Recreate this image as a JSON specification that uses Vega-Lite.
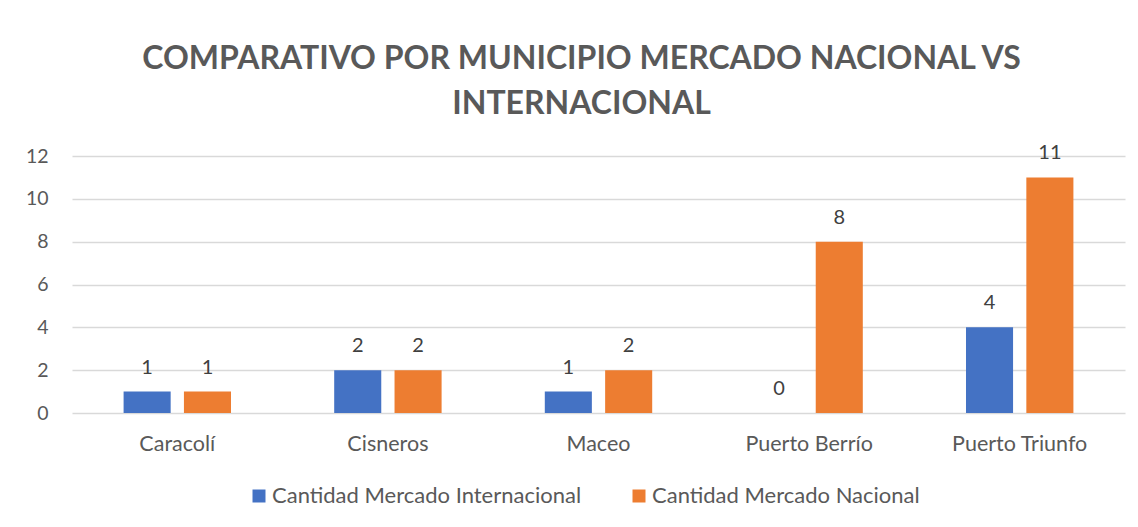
{
  "$schema": "https://vega.github.io/schema/vega-lite/v6.json",
  "width": 1053,
  "height": 257,
  "autosize": "none",
  "padding": {"left": 72, "top": 156, "right": 13, "bottom": 114},
  "background": "white",
  "title": {
    "text": ["COMPARATIVO POR MUNICIPIO MERCADO NACIONAL VS", "INTERNACIONAL"],
    "font": "Lato",
    "fontSize": 32,
    "fontWeight": "bold",
    "color": "#595959",
    "lineHeight": 45,
    "anchor": "middle",
    "frame": "group",
    "dx": -17,
    "offset": 22
  },
  "data": {
    "values": [
      {"Municipio": "Caracolí", "Serie": "Cantidad Mercado Internacional", "Valor": 1},
      {"Municipio": "Caracolí", "Serie": "Cantidad Mercado Nacional", "Valor": 1},
      {"Municipio": "Cisneros", "Serie": "Cantidad Mercado Internacional", "Valor": 2},
      {"Municipio": "Cisneros", "Serie": "Cantidad Mercado Nacional", "Valor": 2},
      {"Municipio": "Maceo", "Serie": "Cantidad Mercado Internacional", "Valor": 1},
      {"Municipio": "Maceo", "Serie": "Cantidad Mercado Nacional", "Valor": 2},
      {"Municipio": "Puerto Berrío", "Serie": "Cantidad Mercado Internacional", "Valor": 0},
      {"Municipio": "Puerto Berrío", "Serie": "Cantidad Mercado Nacional", "Valor": 8},
      {"Municipio": "Puerto Triunfo", "Serie": "Cantidad Mercado Internacional", "Valor": 4},
      {"Municipio": "Puerto Triunfo", "Serie": "Cantidad Mercado Nacional", "Valor": 11}
    ]
  },
  "encoding": {
    "x": {
      "field": "Municipio",
      "type": "nominal",
      "sort": null,
      "title": null,
      "scale": {"paddingInner": 0.49, "paddingOuter": 0.245},
      "axis": {
        "labelAngle": 0,
        "labelFont": "Lato",
        "labelFontSize": 21.5,
        "labelColor": "#595959",
        "labelPadding": 20,
        "domain": false,
        "ticks": false,
        "grid": false
      }
    },
    "xOffset": {
      "field": "Serie",
      "type": "nominal",
      "sort": ["Cantidad Mercado Internacional", "Cantidad Mercado Nacional"],
      "scale": {"paddingInner": 0.22, "paddingOuter": 0}
    },
    "y": {
      "field": "Valor",
      "type": "quantitative",
      "title": null,
      "scale": {"domain": [0, 12]},
      "axis": {
        "values": [0, 2, 4, 6, 8, 10, 12],
        "labelFont": "Lato",
        "labelFontSize": 19.5,
        "labelColor": "#595959",
        "labelPadding": 24,
        "domain": false,
        "ticks": false,
        "gridColor": "#D9D9D9",
        "gridWidth": 1.3
      }
    }
  },
  "layer": [
    {
      "mark": {"type": "bar"},
      "encoding": {
        "color": {
          "field": "Serie",
          "type": "nominal",
          "sort": ["Cantidad Mercado Internacional", "Cantidad Mercado Nacional"],
          "scale": {"range": ["#4472C4", "#ED7D31"]},
          "legend": {
            "title": null,
            "orient": "none",
            "direction": "horizontal",
            "legendX": 176,
            "legendY": 329,
            "symbolType": "square",
            "symbolSize": 169,
            "symbolStrokeWidth": 0,
            "symbolOpacity": 1,
            "labelFont": "Lato",
            "labelFontSize": 22,
            "labelColor": "#595959",
            "labelOffset": 2,
            "columnPadding": 46,
            "labelLimit": 500
          }
        }
      }
    },
    {
      "mark": {"type": "text", "baseline": "bottom", "dy": -14, "font": "Lato", "fontSize": 20, "color": "#404040"},
      "encoding": {
        "text": {"field": "Valor", "type": "quantitative"}
      }
    }
  ],
  "config": {"view": {"stroke": null}}
}
